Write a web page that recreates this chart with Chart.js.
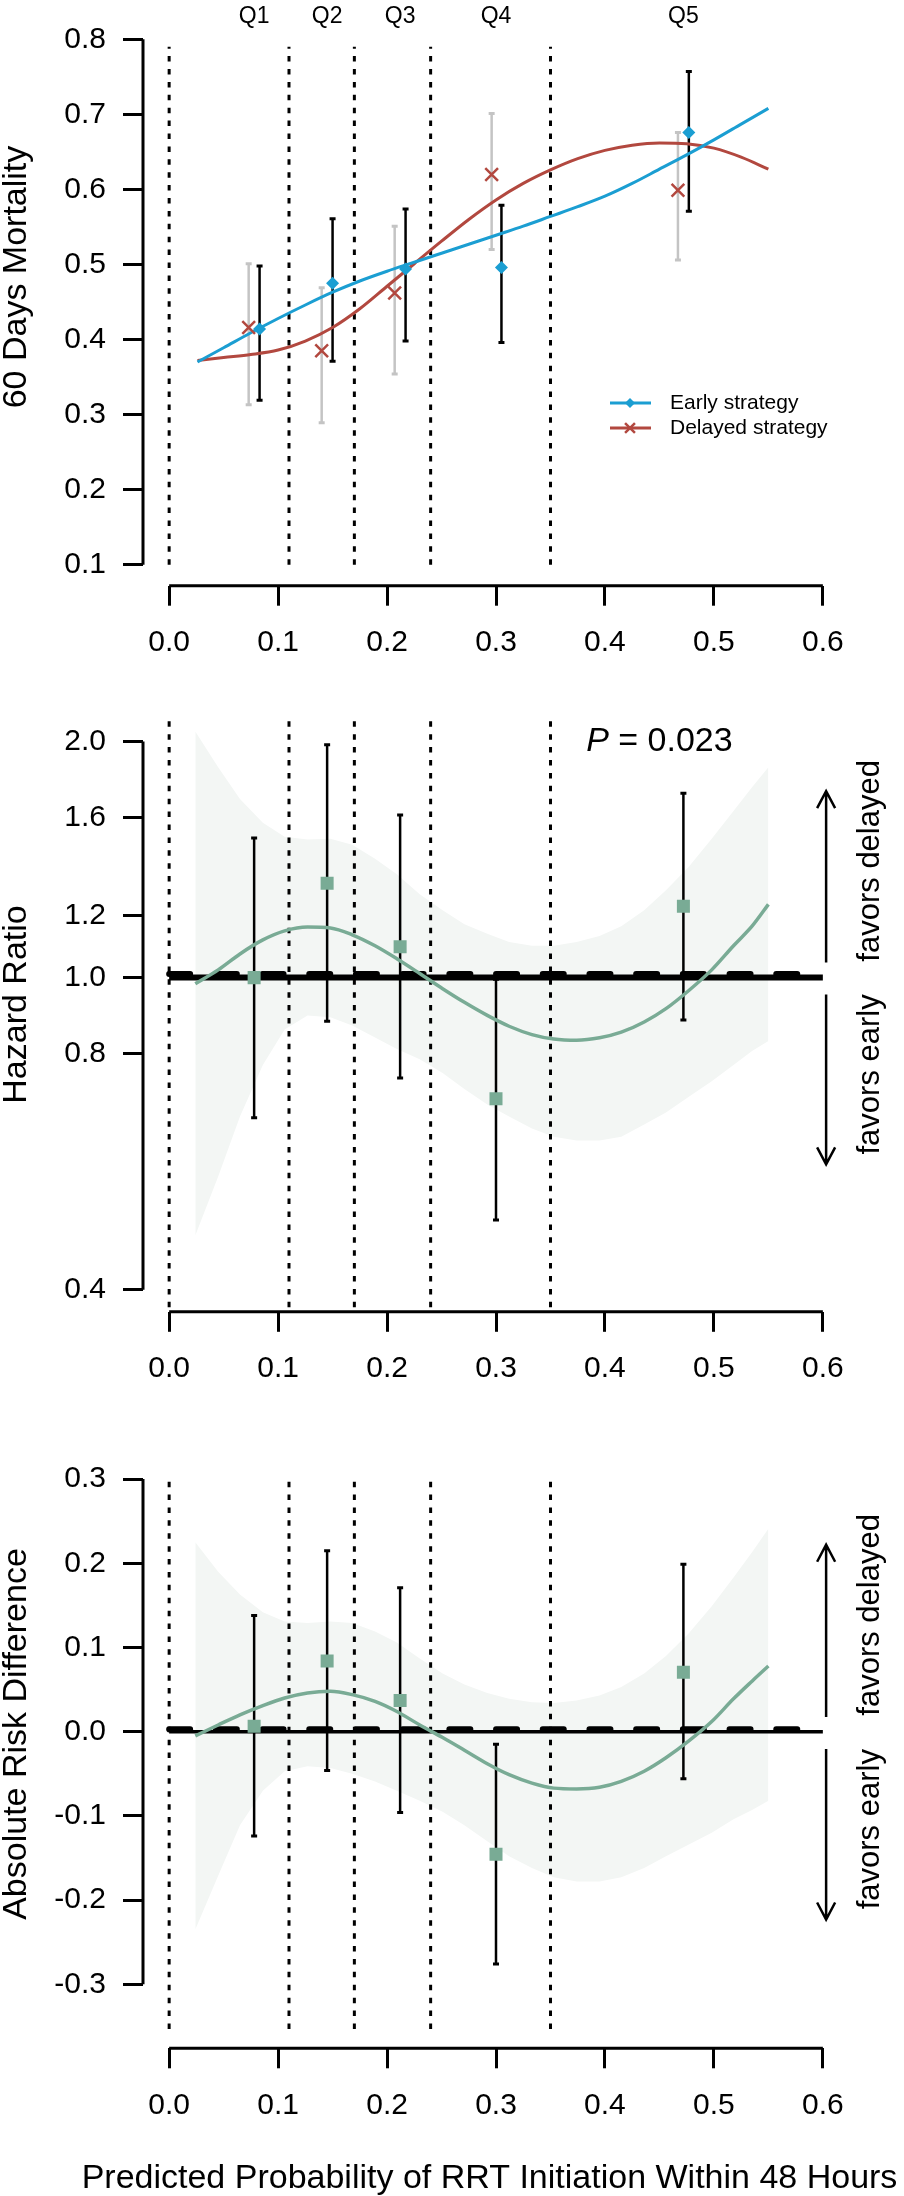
<!DOCTYPE html>
<html>
<head>
<meta charset="utf-8">
<script src="https://cdn.jsdelivr.net/npm/chart.js@4.4.0/dist/chart.umd.min.js"></script>
<style>
  body { margin: 0; background: #fff; }
  canvas { display: block; }
</style>
</head>
<body>
<canvas id="mortChart" width="904" height="700"></canvas>
<canvas id="hrChart" width="904" height="700"></canvas>
<canvas id="rdChart" width="904" height="796"></canvas>
<script>
// shared x axis
const xTicks = [0, 0.1, 0.2, 0.3, 0.4, 0.5, 0.6];
const quintiles = ['Q1', 'Q2', 'Q3', 'Q4', 'Q5'];
const quintileMid = [0.078, 0.145, 0.212, 0.300, 0.472];
const cutPoints = [0, 0.11, 0.17, 0.24, 0.35];

// panel 1: 60 days mortality
const mortTicks = [0.1, 0.2, 0.3, 0.4, 0.5, 0.6, 0.7, 0.8];
const mortX = [0.026, 0.05, 0.075, 0.1, 0.125, 0.15, 0.175, 0.2, 0.225, 0.25, 0.275, 0.3, 0.325, 0.35, 0.375, 0.4, 0.425, 0.45, 0.475, 0.5, 0.525, 0.55];
const earlyCurve = [0.370, 0.389, 0.409, 0.428, 0.446, 0.463, 0.478, 0.491, 0.503, 0.515, 0.527, 0.539, 0.551, 0.564, 0.577, 0.591, 0.608, 0.627, 0.646, 0.666, 0.687, 0.708];
const delayedCurve = [0.372, 0.376, 0.380, 0.386, 0.398, 0.416, 0.441, 0.471, 0.501, 0.531, 0.560, 0.586, 0.608, 0.626, 0.641, 0.652, 0.659, 0.662, 0.661, 0.655, 0.643, 0.627];
const earlyX = [0.083, 0.150, 0.217, 0.305, 0.477];
const earlyMort = [0.414, 0.475, 0.494, 0.496, 0.676];
const earlyLo = [0.319, 0.371, 0.398, 0.396, 0.571];
const earlyHi = [0.498, 0.561, 0.574, 0.579, 0.757];
const delayedX = [0.073, 0.140, 0.207, 0.296, 0.467];
const delayedMort = [0.416, 0.385, 0.462, 0.620, 0.599];
const delayedLo = [0.313, 0.289, 0.354, 0.520, 0.506];
const delayedHi = [0.501, 0.469, 0.551, 0.701, 0.676];

// panels 2 and 3: spline estimates
const splineX = [0.024, 0.045, 0.065, 0.086, 0.106, 0.127, 0.148, 0.168, 0.189, 0.209, 0.230, 0.251, 0.271, 0.292, 0.312, 0.333, 0.353, 0.374, 0.395, 0.415, 0.436, 0.456, 0.477, 0.498, 0.518, 0.535, 0.55];
const hrTicks = [0.4, 0.8, 1.0, 1.2, 1.6, 2.0];
const hrCurve = [0.982, 1.023, 1.072, 1.117, 1.147, 1.160, 1.157, 1.134, 1.098, 1.057, 1.012, 0.968, 0.930, 0.895, 0.867, 0.846, 0.835, 0.832, 0.838, 0.852, 0.878, 0.913, 0.963, 1.023, 1.098, 1.163, 1.240];
const hrUpper = [2.06, 1.854, 1.689, 1.575, 1.512, 1.50, 1.503, 1.477, 1.418, 1.354, 1.277, 1.219, 1.170, 1.137, 1.110, 1.098, 1.098, 1.110, 1.130, 1.163, 1.219, 1.292, 1.385, 1.503, 1.631, 1.749, 1.854];
const hrLower = [0.469, 0.558, 0.665, 0.774, 0.859, 0.895, 0.890, 0.869, 0.839, 0.811, 0.787, 0.756, 0.721, 0.689, 0.665, 0.642, 0.627, 0.620, 0.620, 0.627, 0.650, 0.673, 0.705, 0.738, 0.774, 0.806, 0.830];
const hrPoint = [1.0, 1.319, 1.095, 0.701, 1.233];
const hrLo = [0.663, 0.880, 0.745, 0.491, 0.883];
const hrHi = [1.507, 1.981, 1.612, 0.995, 1.718];

const rdTicks = [-0.3, -0.2, -0.1, 0, 0.1, 0.2, 0.3];
const rdCurve = [-0.005, 0.008, 0.020, 0.031, 0.040, 0.046, 0.048, 0.044, 0.036, 0.024, 0.008, -0.007, -0.022, -0.038, -0.051, -0.061, -0.067, -0.068, -0.066, -0.059, -0.047, -0.031, -0.011, 0.012, 0.039, 0.060, 0.078];
const rdUpper = [0.225, 0.190, 0.163, 0.142, 0.131, 0.129, 0.131, 0.129, 0.119, 0.106, 0.087, 0.069, 0.056, 0.046, 0.039, 0.035, 0.034, 0.037, 0.043, 0.053, 0.069, 0.090, 0.117, 0.149, 0.183, 0.213, 0.241];
const rdLower = [-0.235, -0.171, -0.111, -0.070, -0.047, -0.041, -0.043, -0.050, -0.059, -0.070, -0.082, -0.095, -0.111, -0.130, -0.148, -0.162, -0.173, -0.178, -0.178, -0.173, -0.162, -0.148, -0.134, -0.120, -0.104, -0.093, -0.082];
const rdPoint = [0.0065, 0.084, 0.037, -0.1455, 0.0705];
const rdLo = [-0.124, -0.046, -0.096, -0.276, -0.056];
const rdHi = [0.138, 0.215, 0.171, -0.015, 0.199];

// reference lines and annotation positions (data units)
const hrRef = 1.0, hrRefDash = 1.011;
const rdRef = 0, rdRefDash = 0.003;
const refDashEnd = 0.585;
const arrowX = 0.603;
const hrArrows = [[1.045, 1.729], [0.952, 0.578]];
const rdArrows = [[0.0175, 0.222], [-0.0205, -0.223]];

const FONT = '"Liberation Sans", Arial, Helvetica, sans-serif';
const BLUE = '#1b9ed2', RED = '#b2483f', GREEN = '#79ab95', GRAY = '#c4c4c4', BAND = '#f3f6f4';

const pts = (xs, ys) => xs.map((x, i) => ({ x, y: ys[i] }));
function segments(xs, lo, hi) {
    const out = [];
    xs.forEach((x, i) => out.push({ x, y: lo[i] }, { x, y: hi[i] }, { x, y: null }));
    return out;
}
function lineDs(data, color, width, extra) {
    return Object.assign({ data, borderColor: color, borderWidth: width, pointRadius: 0, fill: false, tension: 0, spanGaps: false }, extra || {});
}
function barDs(xs, lo, hi, color) {
    return lineDs(segments(xs, lo, hi), color, 2.5, {
        pointStyle: 'line', pointBorderColor: color, pointBorderWidth: 3,
        pointRadius: c => (c.raw && c.raw.y !== null ? 3 : 0)
    });
}
function dottedDs(lo, hi) {
    return lineDs(segments(cutPoints, cutPoints.map(() => lo), cutPoints.map(() => hi)), '#000', 3, { borderDash: [5.5, 7.4] });
}
function markerDs(xs, ys, color, style, radius, bw) {
    return lineDs(pts(xs, ys), color, 0, {
        showLine: false, pointStyle: style, pointRadius: radius,
        pointBackgroundColor: color, pointBorderColor: color, pointBorderWidth: bw
    });
}
function smoothDs(xs, ys, color, width) {
    return lineDs(pts(xs, ys), color, width, { cubicInterpolationMode: 'monotone' });
}

function axisOpts(o) {
    const tickFont = { family: FONT, size: 30 };
    return {
        x: {
            type: 'linear', min: -0.024, max: 0.624, bounds: 'data',
            afterBuildTicks: s => { s.ticks = xTicks.map(v => ({ value: v })); },
            afterFit: s => { s.height = o.xHeight; s.paddingLeft = 0; s.paddingRight = 0; },
            ticks: { font: tickFont, color: '#000', padding: 19, maxRotation: 0, autoSkip: false, callback: v => v.toFixed(1) },
            grid: { drawOnChartArea: false, drawTicks: true, tickLength: 20, tickWidth: 3, tickColor: '#000' },
            border: { display: false }
        },
        y: {
            type: o.yType, min: o.yMin, max: o.yMax, bounds: 'data',
            afterBuildTicks: s => { s.ticks = o.yTicks.map(v => ({ value: v })); },
            afterFit: s => { s.width = 143; s.paddingTop = 0; s.paddingBottom = 0; },
            ticks: { font: tickFont, color: '#000', padding: 17, autoSkip: false, callback: v => v.toFixed(1) },
            grid: { drawOnChartArea: false, drawTicks: true, tickLength: 20, tickWidth: 3, tickColor: '#000' },
            border: { display: false }
        }
    };
}

function baseOptions(o) {
    return {
        responsive: false, animation: false, events: [],
        layout: { padding: { top: o.top, right: 55, bottom: 0, left: 0 } },
        plugins: { legend: { display: false }, tooltip: { enabled: false }, filler: { drawTime: 'beforeDatasetsDraw' } },
        scales: axisOpts(o)
    };
}

// R-style detached axis lines plus axis titles
function axesPlugin(yTicks, yTitle, yTitleY, xTitle) {
    return {
        id: 'rAxes',
        afterDatasetsDraw(chart) {
            const { ctx, chartArea, scales: { x, y } } = chart;
            ctx.save();
            ctx.strokeStyle = '#000';
            ctx.lineWidth = 3;
            ctx.beginPath();
            ctx.moveTo(chartArea.left, y.getPixelForValue(yTicks[0]));
            ctx.lineTo(chartArea.left, y.getPixelForValue(yTicks[yTicks.length - 1]));
            ctx.moveTo(x.getPixelForValue(xTicks[0]), chartArea.bottom);
            ctx.lineTo(x.getPixelForValue(xTicks[xTicks.length - 1]), chartArea.bottom);
            ctx.stroke();

            ctx.fillStyle = '#000';
            ctx.font = '34px ' + FONT;
            ctx.textAlign = 'center';
            ctx.textBaseline = 'alphabetic';
            ctx.save();
            ctx.translate(26, yTitleY);
            ctx.rotate(-Math.PI / 2);
            ctx.fillText(yTitle, 0, 0);
            ctx.restore();
            if (xTitle) ctx.fillText(xTitle, 489.5, chart.height - 8);
            ctx.restore();
        }
    };
}

function favorsPlugin(arrows) {
    return {
        id: 'favors',
        afterDatasetsDraw(chart) {
            const { ctx, scales: { x, y } } = chart;
            const ax = x.getPixelForValue(arrowX);
            ctx.save();
            ctx.strokeStyle = '#000';
            ctx.fillStyle = '#000';
            ctx.lineWidth = 2.5;
            arrows.forEach(([from, to]) => {
                const y1 = y.getPixelForValue(from), y2 = y.getPixelForValue(to);
                const dir = Math.sign(y2 - y1);
                ctx.beginPath();
                ctx.moveTo(ax, y1);
                ctx.lineTo(ax, y2);
                ctx.moveTo(ax - 9, y2 - dir * 17);
                ctx.lineTo(ax, y2);
                ctx.lineTo(ax + 9, y2 - dir * 17);
                ctx.stroke();
            });
            ctx.font = '31px ' + FONT;
            ctx.textAlign = 'center';
            ctx.textBaseline = 'alphabetic';
            [['favors delayed', -16], ['favors early', -5]].forEach(([label, shift], i) => {
                const cy = (y.getPixelForValue(arrows[i][0]) + y.getPixelForValue(arrows[i][1])) / 2 + shift;
                ctx.save();
                ctx.translate(ax + 53, cy);
                ctx.rotate(-Math.PI / 2);
                ctx.fillText(label, 0, 0);
                ctx.restore();
            });
            ctx.restore();
        }
    };
}

const mortExtras = {
    id: 'mortExtras',
    afterDatasetsDraw(chart) {
        const { ctx, scales: { x } } = chart;
        ctx.save();
        ctx.fillStyle = '#000';
        ctx.font = '23px ' + FONT;
        ctx.textAlign = 'center';
        ctx.textBaseline = 'middle';
        quintiles.forEach((q, i) => ctx.fillText(q, x.getPixelForValue(quintileMid[i]), 17));
        // legend
        const items = [
            { label: 'Early strategy', color: BLUE, style: 'rectRot', r: 5, bw: 0, y: 403 },
            { label: 'Delayed strategy', color: RED, style: 'crossRot', r: 7, bw: 2.5, y: 428 }
        ];
        ctx.font = '21px ' + FONT;
        ctx.textAlign = 'left';
        items.forEach(it => {
            ctx.strokeStyle = it.color;
            ctx.fillStyle = it.color;
            ctx.lineWidth = 3;
            ctx.beginPath();
            ctx.moveTo(610, it.y);
            ctx.lineTo(651, it.y);
            ctx.stroke();
            ctx.lineWidth = it.bw;
            Chart.helpers.drawPoint(ctx, { pointStyle: it.style, radius: it.r, borderWidth: it.bw, rotation: 0 }, 630, it.y);
            ctx.fillStyle = '#000';
            ctx.fillText(it.label, 670, it.y);
        });
        ctx.restore();
    }
};

const pValue = {
    id: 'pValue',
    afterDatasetsDraw(chart) {
        const { ctx, scales: { x, y } } = chart;
        const cx = x.getPixelForValue(0.45), cy = y.getPixelForValue(2.0);
        ctx.save();
        ctx.fillStyle = '#000';
        ctx.textBaseline = 'middle';
        ctx.textAlign = 'left';
        ctx.font = 'italic 34px ' + FONT;
        const wP = ctx.measureText('P').width;
        ctx.font = '34px ' + FONT;
        const wRest = ctx.measureText(' = 0.023').width;
        const left = cx - (wP + wRest) / 2;
        ctx.font = 'italic 34px ' + FONT;
        ctx.fillText('P', left, cy);
        ctx.font = '34px ' + FONT;
        ctx.fillText(' = 0.023', left + wP, cy);
        ctx.restore();
    }
};

new Chart(document.getElementById('mortChart'), {
    type: 'line',
    data: {
        datasets: [
            markerDs(earlyX, earlyMort, BLUE, 'rectRot', 6.5, 0),
            markerDs(delayedX, delayedMort, RED, 'crossRot', 9, 2.5),
            smoothDs(mortX, earlyCurve, BLUE, 3),
            smoothDs(mortX, delayedCurve, RED, 3),
            barDs(earlyX, earlyLo, earlyHi, '#000'),
            barDs(delayedX, delayedLo, delayedHi, GRAY),
            dottedDs(0.1, 0.79)
        ]
    },
    options: baseOptions({ top: 18.3, xHeight: 114.3, yType: 'linear', yMin: 0.072, yMax: 0.828, yTicks: mortTicks }),
    plugins: [axesPlugin(mortTicks, '60 Days Mortality', 277), mortExtras]
});

new Chart(document.getElementById('hrChart'), {
    type: 'line',
    data: {
        datasets: [
            markerDs(quintileMid, hrPoint, GREEN, 'rect', 9.2, 0),
            smoothDs(splineX, hrCurve, GREEN, 3.5),
            barDs(quintileMid, hrLo, hrHi, '#000'),
            lineDs(pts([0, 0.6], [hrRef, hrRef]), '#000', 6),
            lineDs(pts([0, refDashEnd], [hrRefDash, hrRefDash]), '#000', 6, { borderDash: [21, 25.7], borderCapStyle: 'round' }),
            dottedDs(0.38, 2.13),
            lineDs(pts(splineX, hrUpper), BAND, 0, { fill: '+1', backgroundColor: BAND }),
            lineDs(pts(splineX, hrLower), BAND, 0)
        ]
    },
    options: baseOptions({ top: 20, xHeight: 88.2, yType: 'logarithmic', yMin: 0.375, yMax: 2.13, yTicks: hrTicks }),
    plugins: [axesPlugin(hrTicks, 'Hazard Ratio', 304.5), favorsPlugin(hrArrows), pValue]
});

new Chart(document.getElementById('rdChart'), {
    type: 'line',
    data: {
        datasets: [
            markerDs(quintileMid, rdPoint, GREEN, 'rect', 9.2, 0),
            smoothDs(splineX, rdCurve, GREEN, 3.5),
            barDs(quintileMid, rdLo, rdHi, '#000'),
            lineDs(pts([0, 0.6], [rdRef, rdRef]), '#000', 3.5),
            lineDs(pts([0, refDashEnd], [rdRefDash, rdRefDash]), '#000', 6, { borderDash: [21, 25.7], borderCapStyle: 'round' }),
            dottedDs(-0.353, 0.3),
            lineDs(pts(splineX, rdUpper), BAND, 0, { fill: '+1', backgroundColor: BAND }),
            lineDs(pts(splineX, rdLower), BAND, 0)
        ]
    },
    options: baseOptions({ top: 57.2, xHeight: 147.7, yType: 'linear', yMin: -0.376, yMax: 0.326, yTicks: rdTicks }),
    plugins: [axesPlugin(rdTicks, 'Absolute Risk Difference', 334, 'Predicted Probability of RRT Initiation Within 48 Hours'), favorsPlugin(rdArrows)]
});
</script>
</body>
</html>
